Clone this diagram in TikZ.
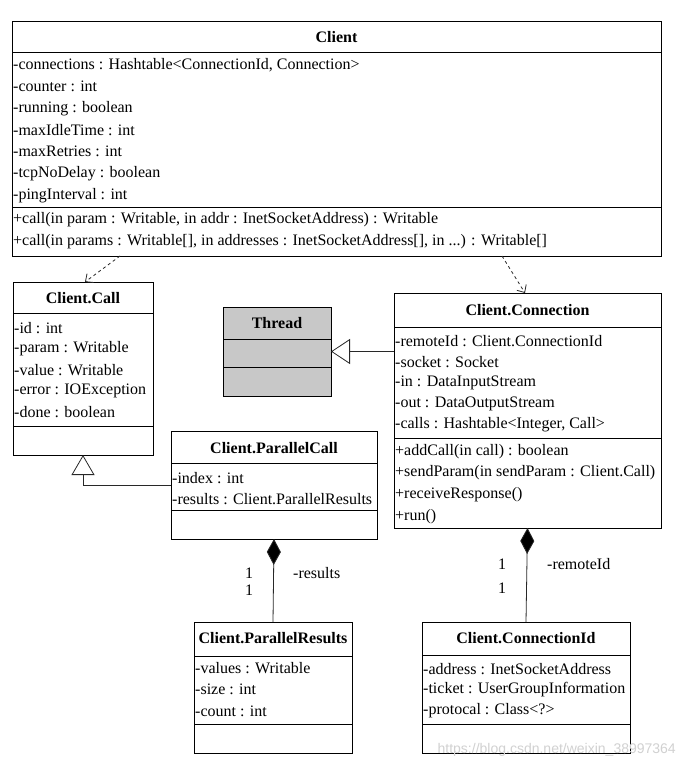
\documentclass[tikz,border=0pt]{standalone}
\usepackage{fontspec}
\setmainfont{Liberation Serif}
\newfontfamily\wmfont{Liberation Sans}
\usetikzlibrary{arrows.meta}
\definecolor{threadgray}{RGB}{200,200,200}
\definecolor{linecol}{RGB}{40,40,40}
\begin{document}
\begin{tikzpicture}[x=1pt,y=-1pt,
  classbox/.style={draw=black, line width=0.9pt, anchor=north west, inner sep=0pt, outer sep=0pt},
  ttl/.style={font=\bfseries\fontsize{16}{16}\selectfont, inner sep=0pt},
  txt/.style={font=\fontsize{16}{16}\selectfont, anchor=west, inner sep=0pt},
  lbl/.style={font=\fontsize{16}{16}\selectfont, inner sep=0pt},
  divline/.style={line width=0.9pt},
  conn/.style={draw=linecol, line width=0.8pt}]
\useasboundingbox (0,0) rectangle (684,770);
\fill[white] (0,0) rectangle (684,770);

% ---------------- Client ----------------
\node[classbox, minimum width=649pt, minimum height=235pt] (client) at (12,21) {};
\node[ttl] (clientT) at (336.5,37) {Client};
\draw[divline] (12,52) -- (661,52);
\node[txt] (ca1) at (13,65) {-connections : Hashtable<ConnectionId, Connection>};
\node[txt] (ca2) at (13,86.7) {-counter : int};
\node[txt] (ca3) at (13,108.4) {-running : boolean};
\node[txt] (ca4) at (13,130.1) {-maxIdleTime : int};
\node[txt] (ca5) at (13,151.8) {-maxRetries : int};
\node[txt] (ca6) at (13,173.5) {-tcpNoDelay : boolean};
\node[txt] (ca7) at (13,195.2) {-pingInterval : int};
\draw[divline] (12,207) -- (661,207);
\node[txt] (cm1) at (13,220) {+call(in param : Writable, in addr : InetSocketAddress) : Writable};
\node[txt] (cm2) at (13,242) {+call(in params : Writable[], in addresses : InetSocketAddress[], in ...) : Writable[]};

% ---------------- Client.Call ----------------
\node[classbox, minimum width=140pt, minimum height=173pt] (call) at (13,282) {};
\node[ttl] (callT) at (83,298) {Client.Call};
\draw[divline] (13,313) -- (153,313);
\node[txt] (k1) at (14,328) {-id : int};
\node[txt] (k2) at (14,349) {-param : Writable};
\node[txt] (k3) at (14,370) {-value : Writable};
\node[txt] (k4) at (14,391) {-error : IOException};
\node[txt] (k5) at (14,412) {-done : boolean};
\draw[divline] (13,426) -- (153,426);

% ---------------- Thread ----------------
\node[classbox, fill=threadgray, minimum width=108pt, minimum height=89pt] (thread) at (223,307) {};
\node[ttl] (threadT) at (277,323) {Thread};
\draw[divline] (223,339) -- (331,339);
\draw[divline] (223,367) -- (331,367);

% ---------------- Client.Connection ----------------
\node[classbox, minimum width=267pt, minimum height=235pt] (connection) at (394,293) {};
\node[ttl] (connT) at (527.5,310) {Client.Connection};
\draw[divline] (394,327) -- (661,327);
\node[txt] (n1) at (395,341) {-remoteId : Client.ConnectionId};
\node[txt] (n2) at (395,362) {-socket : Socket};
\node[txt] (n3) at (395,383) {-in : DataInputStream};
\node[txt] (n4) at (395,404) {-out : DataOutputStream};
\node[txt] (n5) at (395,425) {-calls : Hashtable<Integer, Call>};
\draw[divline] (394,438) -- (661,438);
\node[txt] (nm1) at (395,452) {+addCall(in call) : boolean};
\node[txt] (nm2) at (395,473) {+sendParam(in sendParam : Client.Call)};
\node[txt] (nm3) at (395,495) {+receiveResponse()};
\node[txt] (nm4) at (395,517) {+run()};

% ---------------- Client.ParallelCall ----------------
\node[classbox, minimum width=206pt, minimum height=108pt] (pcall) at (171,431) {};
\node[ttl] (pcallT) at (274,448) {Client.ParallelCall};
\draw[divline] (171,463) -- (377,463);
\node[txt] (p1) at (172,478) {-index : int};
\node[txt] (p2) at (172,499) {-results : Client.ParallelResults};
\draw[divline] (171,510) -- (377,510);

% ---------------- Client.ParallelResults ----------------
\node[classbox, minimum width=158pt, minimum height=131pt] (presults) at (194,622) {};
\node[ttl] (presT) at (273,638) {Client.ParallelResults};
\draw[divline] (194,656) -- (352,656);
\node[txt] (r1) at (195,668) {-values : Writable};
\node[txt] (r2) at (195,689) {-size : int};
\node[txt] (r3) at (195,711) {-count : int};
\draw[divline] (194,724) -- (352,724);

% ---------------- Client.ConnectionId ----------------
\node[classbox, minimum width=208pt, minimum height=131pt] (connid) at (422,622) {};
\node[ttl] (connidT) at (526,638) {Client.ConnectionId};
\draw[divline] (422,655) -- (630,655);
\node[txt] (i1) at (423,669) {-address : InetSocketAddress};
\node[txt] (i2) at (423,690) {-ticket : UserGroupInformation};
\node[txt] (i3) at (423,711) {-protocal : Class<?>};
\draw[divline] (422,724) -- (630,724);

% ---------------- connectors ----------------
\coordinate (d1s) at (120,256);
\coordinate (d1e) at (85,282);
\draw[conn, dashed, -{Straight Barb[length=6pt,width=11pt]}] (d1s) -- (d1e);
\coordinate (d2s) at (502,256);
\coordinate (d2e) at (525,293);
\draw[conn, dashed, -{Straight Barb[length=6pt,width=11pt]}] (d2s) -- (d2e);

\draw[conn, -{Triangle[open, length=19pt, width=25pt, fill=white]}] (thread.east -| connection.west) -- (thread.east);

\coordinate (pcw) at (171,485);
\draw[conn, -{Triangle[open, length=20pt, width=23pt, fill=white]}] (pcw) -| (call.south);

\draw[conn, {Diamond[length=26pt, width=14pt, fill=black]}-] (pcall.south) -- (presults.north);
\draw[conn, {Diamond[length=26pt, width=14pt, fill=black]}-] (connection.south) -- (connid.north);

\node[lbl] (m1) at (249,573) {1};
\node[lbl] (m2) at (249,590) {1};
\node[lbl, anchor=west] (m3) at (293,573) {-results};
\node[lbl] (m4) at (502,564) {1};
\node[lbl] (m5) at (502,588) {1};
\node[lbl, anchor=west] (m6) at (547,564) {-remoteId};

\node[font=\wmfont\fontsize{14}{14}\selectfont, text=black!18, anchor=east, inner sep=0pt] (wm) at (676,750) {https://blog.csdn.net/weixin\_38997364};
\end{tikzpicture}
\end{document}
